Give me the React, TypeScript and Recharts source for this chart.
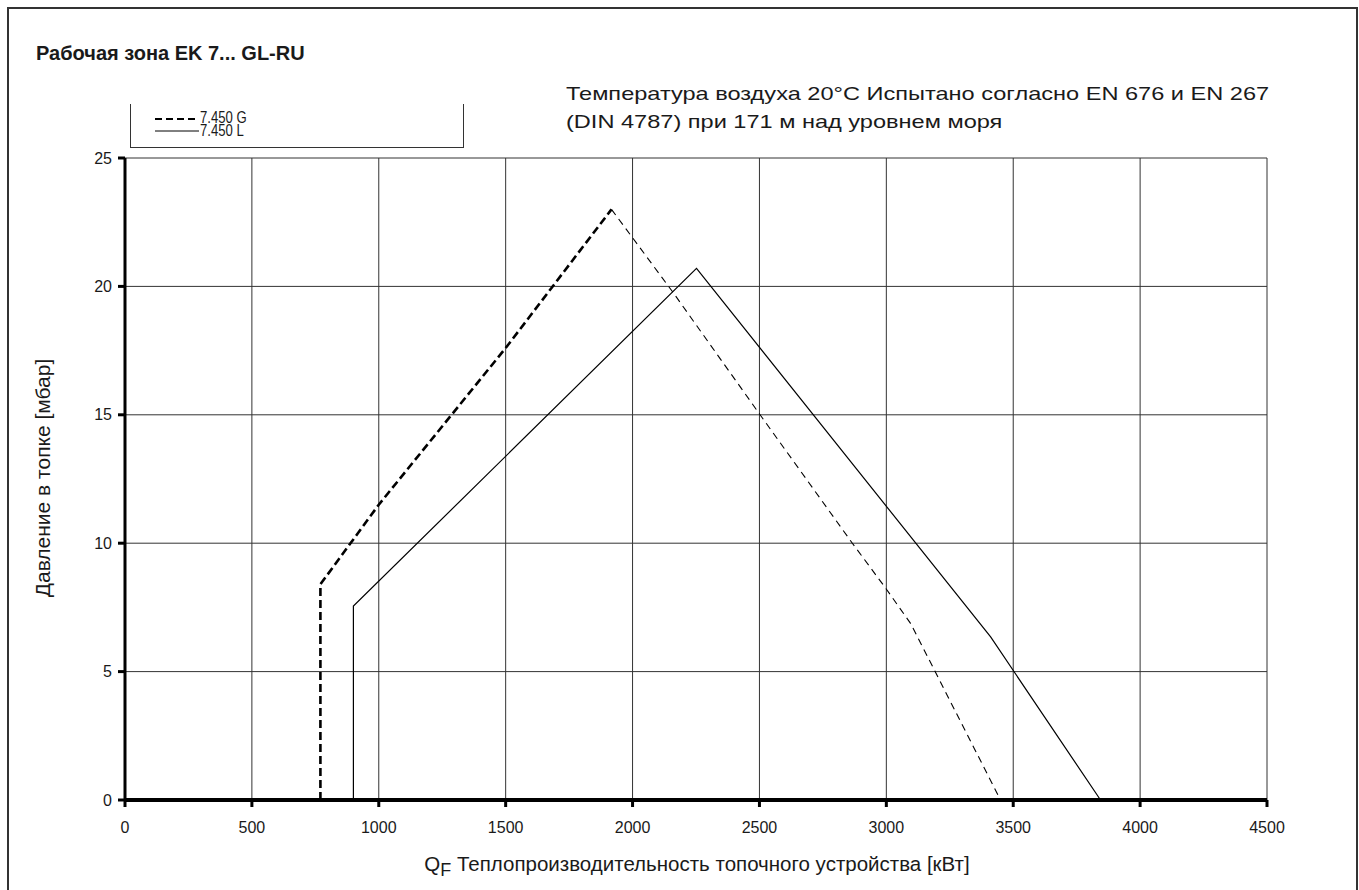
import React from 'react'
import { LineChart, Line, XAxis, YAxis, CartesianGrid } from 'recharts'

// 7.450 G – rising part (thick dashes)
const gRiseX = [770, 770, 1000, 1500, 1917]
const gRiseY = [0, 8.4, 11.5, 17.6, 23.0]
// 7.450 G – falling part (thin dashes)
const gFallX = [1917, 2157, 2499, 2866, 2998, 3096, 3450]
const gFallY = [23.0, 19.8, 15.05, 10.0, 8.24, 6.87, 0]
// 7.450 L
const lX = [900, 900, 2252, 3411, 3844]
const lY = [0, 7.55, 20.7, 6.35, 0]

const xTicks = [0, 500, 1000, 1500, 2000, 2500, 3000, 3500, 4000, 4500]
const yTicks = [0, 5, 10, 15, 20, 25]

const toRows = (xs: number[], ys: number[]) => xs.map((x, i) => ({ x, y: ys[i] }))

const FONT = '"Liberation Sans", Arial, sans-serif'
const INK = '#1a1a1a'

export default function App() {
  const tickStyle = { fontSize: 16, fill: INK, fontFamily: FONT }

  return (
    <div style={{ position: 'absolute', left: 0, top: 0, width: 1359, height: 890, overflow: 'hidden', background: '#fff', fontFamily: FONT, color: INK }}>
      <div style={{ position: 'absolute', left: 7, top: 7, width: 1351, height: 900, border: '2px solid #333', boxSizing: 'border-box' }} />

      <LineChart
        width={1359}
        height={890}
        margin={{ top: 158, right: 92, left: 0, bottom: 60 }}
        style={{ position: 'absolute', left: 0, top: 0 }}
      >
        <CartesianGrid stroke="#333" strokeWidth={1} />
        <XAxis
          dataKey="x"
          type="number"
          domain={[0, 4500]}
          ticks={xTicks}
          interval={0}
          height={30}
          tick={tickStyle}
          tickSize={7}
          tickMargin={15}
          axisLine={{ stroke: '#000', strokeWidth: 4 }}
          tickLine={{ stroke: '#000', strokeWidth: 3 }}
          allowDuplicatedCategory={false}
        />
        <YAxis
          dataKey="y"
          type="number"
          domain={[0, 25]}
          ticks={yTicks}
          interval={0}
          width={125}
          tick={tickStyle}
          tickSize={7}
          tickMargin={6}
          axisLine={{ stroke: '#000', strokeWidth: 3 }}
          tickLine={{ stroke: '#000', strokeWidth: 3 }}
        />
        <Line
          data={toRows(gRiseX, gRiseY)}
          dataKey="y"
          type="linear"
          stroke="#000"
          strokeWidth={2.6}
          strokeDasharray="8 4"
          dot={false}
          activeDot={false}
          isAnimationActive={false}
        />
        <Line
          data={toRows(gFallX, gFallY)}
          dataKey="y"
          type="linear"
          stroke="#000"
          strokeWidth={1.1}
          strokeDasharray="7 5"
          dot={false}
          activeDot={false}
          isAnimationActive={false}
        />
        <Line
          data={toRows(lX, lY)}
          dataKey="y"
          type="linear"
          stroke="#000"
          strokeWidth={1.2}
          dot={false}
          activeDot={false}
          isAnimationActive={false}
        />
      </LineChart>

      <div style={{ position: 'absolute', left: 36, top: 42, fontSize: 20, fontWeight: 'bold', whiteSpace: 'nowrap' }}>
        Рабочая зона EK 7... GL-RU
      </div>

      <div style={{ position: 'absolute', left: 566, top: 80, fontSize: 19, lineHeight: '28px', whiteSpace: 'nowrap', transform: 'scaleX(1.24)', transformOrigin: 'left top' }}>
        Температура воздуха 20°C Испытано согласно EN 676 и EN 267
        <br />
        (DIN 4787) при 171 м над уровнем моря
      </div>

      {/* legend */}
      <div style={{ position: 'absolute', left: 130, top: 104, width: 334, height: 44, borderLeft: '1px solid #333', borderRight: '1px solid #333', borderBottom: '1px solid #333', boxSizing: 'border-box' }}>
        <svg width={70} height={40} style={{ position: 'absolute', left: 24, top: 4 }}>
          <line x1={0} y1={11} x2={44} y2={11} stroke="#000" strokeWidth={2} strokeDasharray="7 4" />
          <line x1={0} y1={23} x2={44} y2={23} stroke="#000" strokeWidth={1} />
        </svg>
        <div style={{ position: 'absolute', left: 69, top: 8, fontSize: 16, lineHeight: '12px', transform: 'scaleX(0.82)', transformOrigin: 'left top', whiteSpace: 'nowrap' }}>7.450 G</div>
        <div style={{ position: 'absolute', left: 69, top: 21, fontSize: 16, lineHeight: '12px', transform: 'scaleX(0.82)', transformOrigin: 'left top', whiteSpace: 'nowrap' }}>7.450 L</div>
      </div>

      <div style={{ position: 'absolute', left: 43, top: 478, fontSize: 21, whiteSpace: 'nowrap', transform: 'translate(-50%, -50%) rotate(-90deg)' }}>
        Давление в топке [мбар]
      </div>

      <div style={{ position: 'absolute', left: 697, top: 866, fontSize: 20.5, whiteSpace: 'nowrap', transform: 'translate(-50%, -50%)' }}>
        Q<sub style={{ fontSize: 18, verticalAlign: '-5px' }}>F</sub> Теплопроизводительность топочного устройства [кВт]
      </div>
    </div>
  )
}
